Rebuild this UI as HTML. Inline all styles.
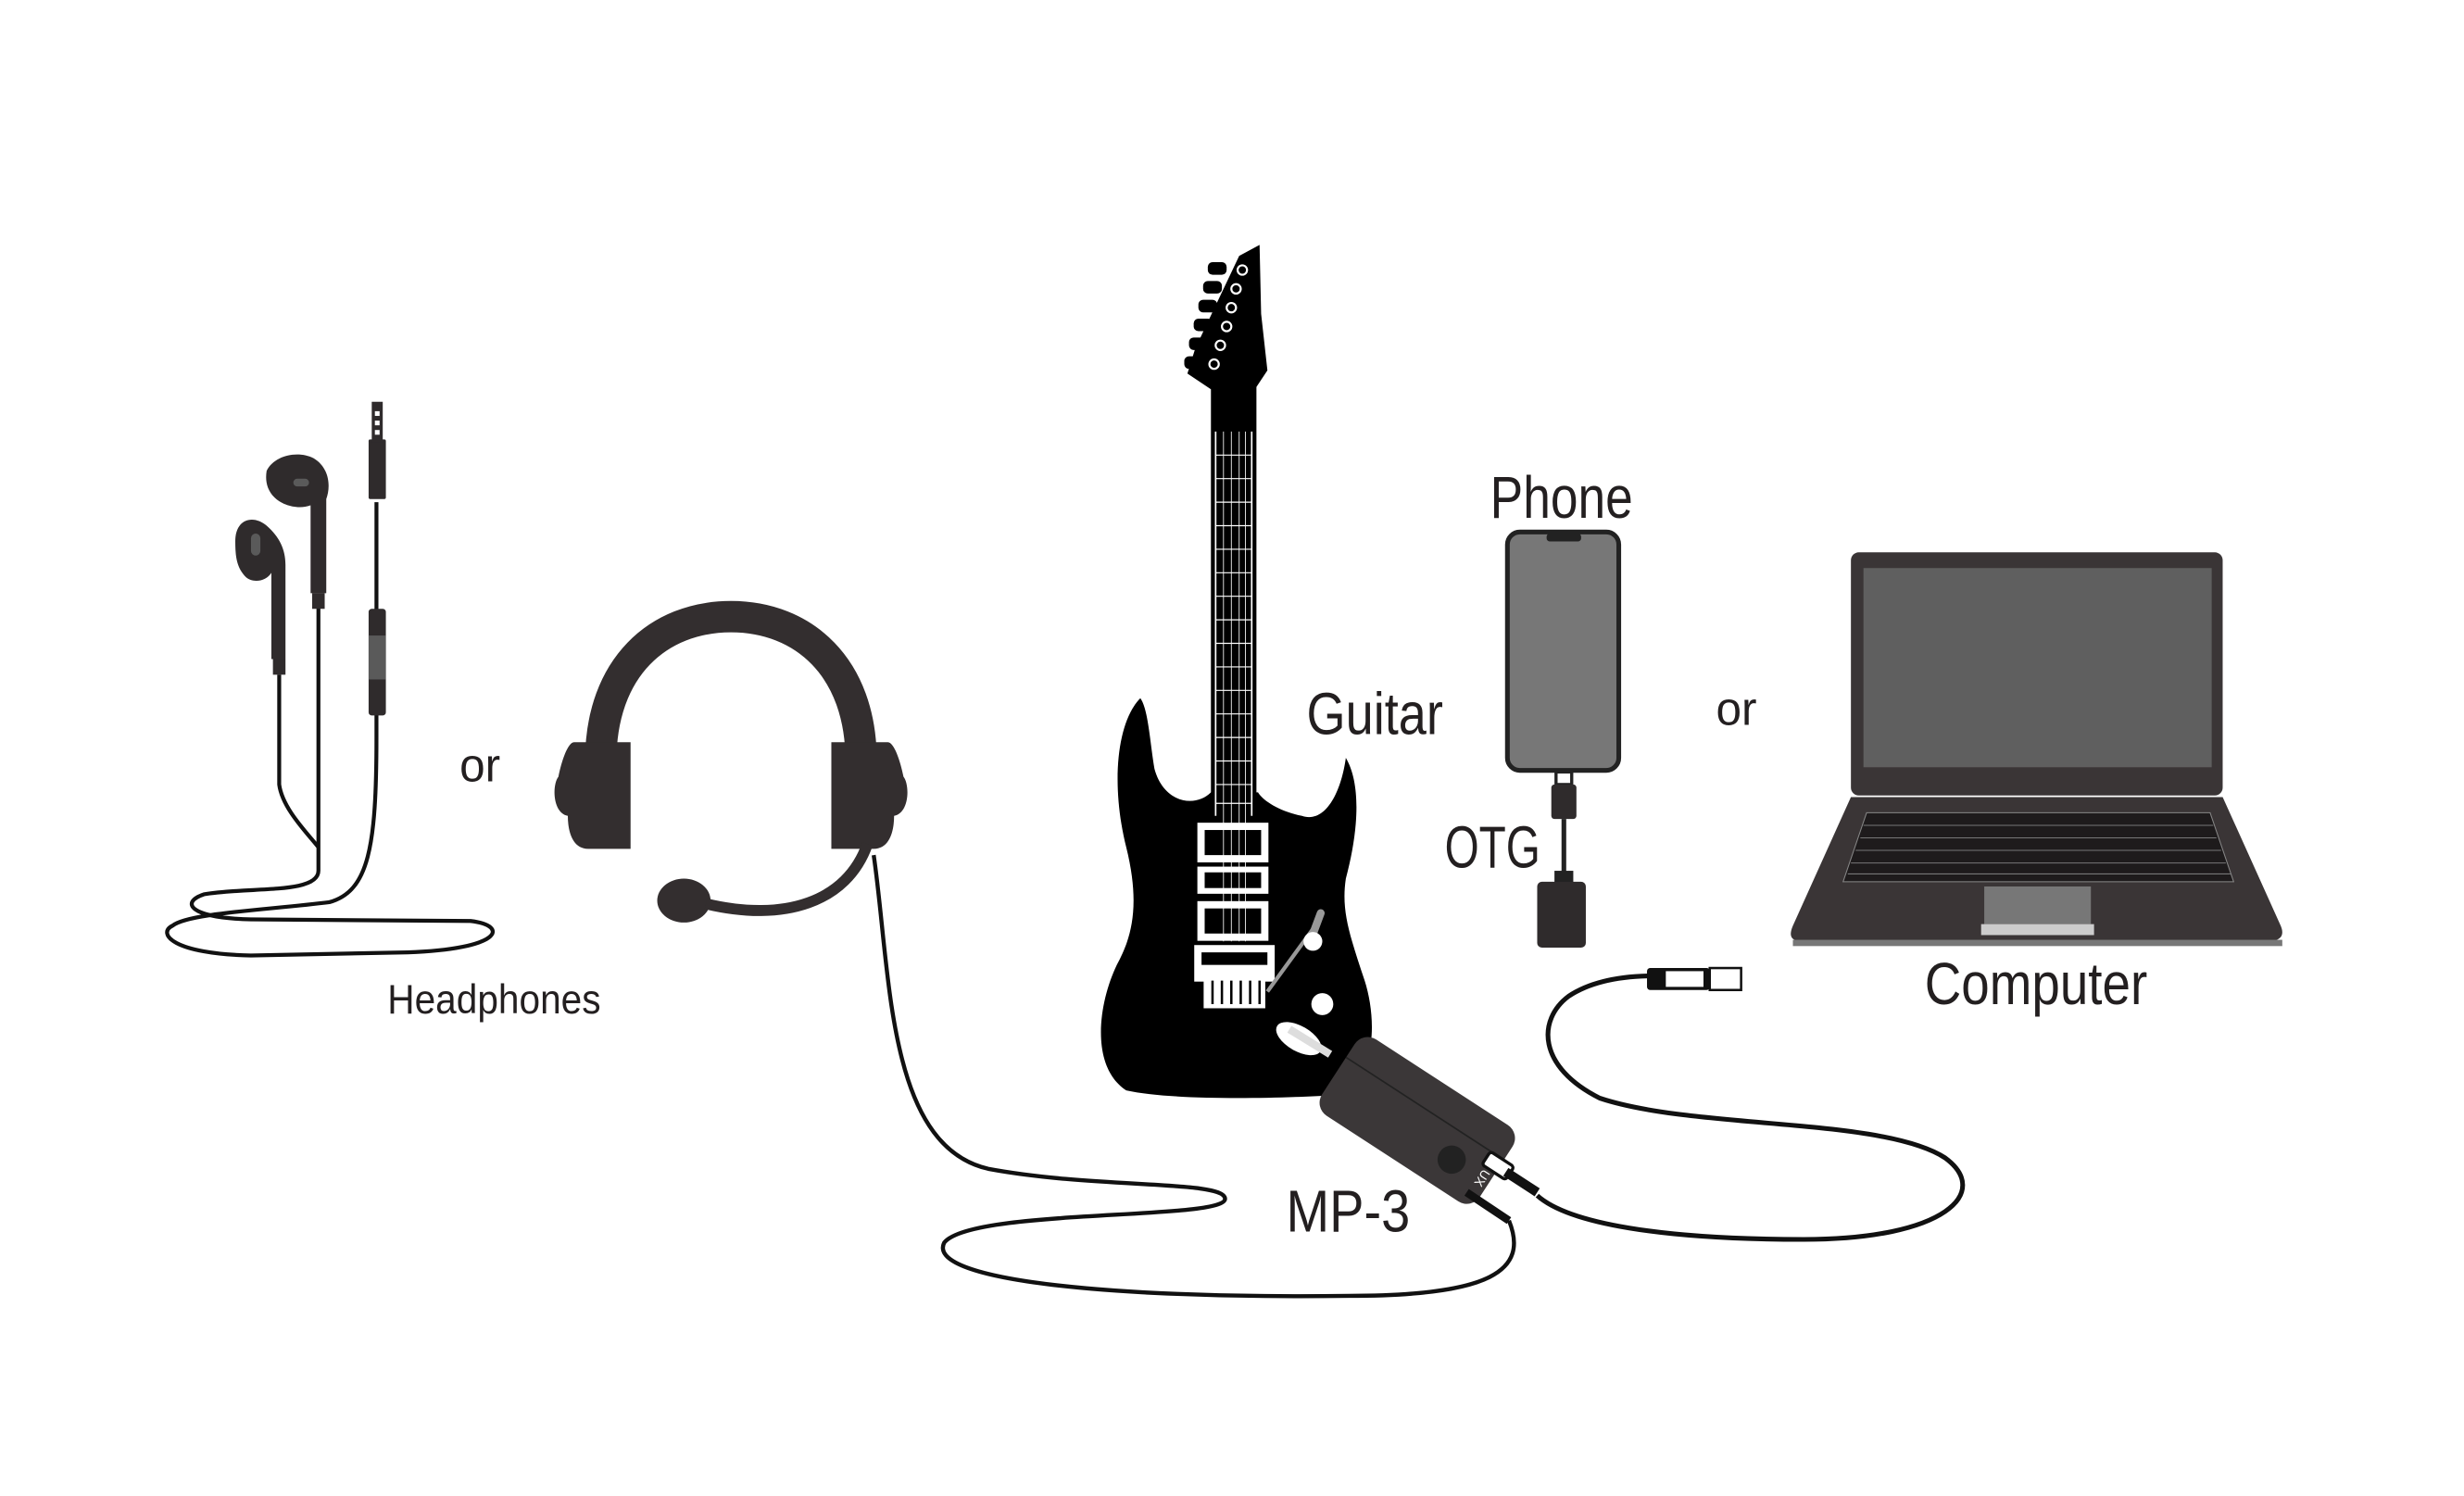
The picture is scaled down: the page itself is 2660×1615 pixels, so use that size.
<!DOCTYPE html>
<html><head><meta charset="utf-8"><style>
html,body{margin:0;padding:0;background:#fff;}
svg{display:block}
text{font-family:"Liberation Sans",sans-serif;fill:#231f20}
</style></head><body>
<svg width="2660" height="1615" viewBox="0 0 1552 942" xmlns="http://www.w3.org/2000/svg">
<rect width="1552" height="942" fill="#fff"/>
<g transform="scale(0.988)">
<!-- Earbuds cords -->
<g fill="none" stroke="#111" stroke-width="2.5">
<path d="M178 430 L178 500 C180 515 195 530 203 540"/>
<path d="M203 385 L203 555 C203 570 160 565 130 570 C115 575 120 585 160 586 L300 587 C325 590 320 605 260 607 L160 609 C110 608 100 595 110 590 C120 582 170 580 210 575 C235 568 240 540 240 470 L240 455"/>
<path d="M240 320 L240 390"/>
</g>
<g fill="#2f2b2c">
<path d="M150 345 C150 330 162 328 170 335 C178 342 182 350 182 360 L182 420 L173 420 L173 365 C170 370 162 372 157 368 C151 362 150 355 150 345 Z"/>
<rect x="174" y="420" width="8" height="10"/>
<path d="M170 300 C175 290 190 287 200 292 C210 298 211 310 208 318 L208 378 L198 378 L198 322 C190 325 180 322 175 317 C170 312 169 306 170 300 Z"/>
<rect x="199" y="378" width="8" height="10"/>
<rect x="235" y="280" width="11" height="38" rx="1"/>
<rect x="237" y="256" width="7" height="26"/>
<rect x="235" y="388" width="11" height="68" rx="2"/>
</g>
<rect x="235" y="405" width="11" height="28" fill="#5a5a5a"/>
<rect x="160" y="340" width="6" height="14" rx="3" fill="#5a5a5a"/>
<rect x="187" y="305" width="10" height="5" rx="2.5" fill="#5a5a5a"/>
<g fill="#fff"><rect x="239" y="262" width="3" height="3"/><rect x="239" y="268" width="3" height="3"/><rect x="239" y="274" width="3" height="3"/></g>
<text x="293" y="498" font-size="30" textLength="26" lengthAdjust="spacingAndGlyphs">or</text>
<text x="247" y="646" font-size="26" textLength="136" lengthAdjust="spacingAndGlyphs">Headphones</text>
<!-- headset -->
<path d="M383 485 C383 425 420 393 466 393 C512 393 549 425 549 485" fill="none" stroke="#332e2f" stroke-width="20"/>
<g fill="#332e2f">
<path d="M366 473 L402 473 L402 541 L375 541 C365 541 362 530 362 520 C352 518 352 500 356 495 C358 485 362 473 366 473 Z"/>
<path d="M530 473 L566 473 C570 473 574 485 576 495 C580 500 580 518 570 520 C570 530 567 541 557 541 L530 541 Z"/>
<ellipse cx="436" cy="574" rx="17" ry="14"/>
</g>
<path d="M553 538 C540 575 500 588 450 576" fill="none" stroke="#332e2f" stroke-width="7"/>
<!-- headset cable -->
<path d="M557 545 C568 620 565 730 630 745 C700 758 780 752 781 764 C782 778 620 770 602 792 C590 815 700 828 860 826 C950 826 975 810 962 778" fill="none" stroke="#111" stroke-width="2.6"/>
<!-- guitar -->
<g fill="#000">
<path d="M772 505 C762 515 742 512 736 490 C733 472 732 452 727 445 C712 460 708 500 718 540 C728 580 720 600 712 615 C700 640 695 680 718 695 C750 702 820 700 850 698 C878 690 878 650 870 625 C860 595 855 580 858 560 C866 530 868 500 858 483 C855 505 845 525 830 520 C815 517 805 510 802 505 Z"/>
<rect x="772" y="240" width="29" height="270"/>
<path d="M772 248 L757 238 L762 222 L790 163 L803 156 L804 200 L808 236 L800 248 Z"/>
<rect x="755" y="227" width="12" height="8" rx="3"/><rect x="758" y="215" width="12" height="8" rx="3"/><rect x="761" y="203" width="12" height="8" rx="3"/><rect x="764" y="191" width="12" height="8" rx="3"/><rect x="767" y="179" width="12" height="8" rx="3"/><rect x="770" y="167" width="12" height="8" rx="3"/>
</g>
<g fill="none" stroke="#fff" stroke-width="1.3">
<circle cx="792" cy="172" r="3"/><circle cx="788" cy="184" r="3"/><circle cx="785" cy="196" r="3"/><circle cx="782" cy="208" r="3"/><circle cx="778" cy="220" r="3"/><circle cx="774" cy="232" r="3"/>
<path d="M775 275 L775 520 M798 275 L798 520" stroke-width="1"/>
<rect x="764" y="525" width="44" height="24" fill="#fff"/>
<rect x="764" y="553" width="44" height="16" fill="#fff"/>
<rect x="764" y="575" width="44" height="24" fill="#fff"/>
<rect x="762" y="603" width="50" height="22" fill="#fff"/>
<rect x="768" y="622" width="38" height="20" fill="#fff"/>
</g>
<g fill="#000"><rect x="768" y="529" width="36" height="16"/><rect x="768" y="556" width="36" height="10"/><rect x="768" y="579" width="36" height="16"/><rect x="766" y="607" width="42" height="8"/></g>
<g stroke="#000" stroke-width="1.5"><path d="M773 625 V640 M779 625 V640 M785 625 V640 M791 625 V640 M797 625 V640 M803 625 V640"/></g>
<g stroke="#fff" stroke-width="0.7">
<path d="M775 290 H798 M775 305 H798 M775 320 H798 M775 335 H798 M775 350 H798 M775 365 H798 M775 380 H798 M775 395 H798 M775 410 H798 M775 425 H798 M775 440 H798 M775 455 H798 M775 470 H798 M775 485 H798 M775 500 H798 M775 512 H798"/>
<path d="M780 275 V600 M785 275 V600 M790 275 V600 M794 275 V600" stroke-width="0.5"/>
</g>
<path d="M808 632 L840 588" stroke="#999" stroke-width="2.5"/>
<path d="M836 598 L842 582" stroke="#999" stroke-width="5" stroke-linecap="round"/>
<circle cx="837" cy="600" r="6" fill="#fff"/>
<circle cx="843" cy="640" r="7" fill="#fff"/>
<ellipse cx="828" cy="662" rx="16" ry="8" fill="#fff" transform="rotate(30 828 662)"/>
<text x="833" y="468" font-size="38" textLength="87" lengthAdjust="spacingAndGlyphs">Guitar</text>
<!-- MP-3 device -->
<line x1="848" y1="672" x2="822" y2="656" stroke="#ddd" stroke-width="5"/>
<g transform="translate(903 715) rotate(33)">
<rect x="-60" y="-30" width="120" height="58" rx="10" fill="#3b3738"/>
<line x1="-60" y1="-10" x2="60" y2="-10" stroke="#222" stroke-width="1"/>
<circle cx="32" cy="8" r="9" fill="#222"/>
<text x="52" y="-4" font-size="8" transform="rotate(90 52 -4)" style="fill:#fff">NUX</text>
</g>
<rect x="946" y="738" width="18" height="10" rx="2" fill="#fff" stroke="#111" stroke-width="2" transform="rotate(33 955 743)"/>
<path d="M960 747 L980 760" stroke="#111" stroke-width="6"/>
<path d="M935 760 L962 778" stroke="#111" stroke-width="5"/>
<text x="820" y="785" font-size="38" textLength="79" lengthAdjust="spacingAndGlyphs">MP-3</text>
<!-- USB cable -->
<path d="M980 762 C1000 780 1060 790 1150 790 C1240 790 1270 760 1240 738 C1200 712 1080 720 1020 700 C980 680 980 650 1000 635 C1015 625 1035 622 1055 622" fill="none" stroke="#111" stroke-width="3"/>
<rect x="1050" y="617" width="40" height="14" rx="2" fill="#111"/>
<rect x="1062" y="619" width="24" height="10" fill="#fff"/>
<rect x="1090" y="617" width="20" height="14" fill="#fff" stroke="#111" stroke-width="1.5"/>
<!-- phone -->
<rect x="961" y="339" width="71" height="152" rx="8" fill="#777" stroke="#222" stroke-width="3"/>
<rect x="986" y="340" width="22" height="5" rx="2" fill="#222"/>
<text x="950" y="330" font-size="38" textLength="91" lengthAdjust="spacingAndGlyphs">Phone</text>
<rect x="992" y="492" width="10" height="8" fill="#fff" stroke="#222" stroke-width="2"/>
<rect x="989" y="500" width="16" height="22" rx="2" fill="#2f2b2c"/>
<path d="M997 522 L997 558" stroke="#222" stroke-width="3"/>
<rect x="991" y="555" width="12" height="8" fill="#222"/>
<rect x="980" y="562" width="31" height="42" rx="3" fill="#2f2b2c"/>
<text x="921" y="553" font-size="38" textLength="61" lengthAdjust="spacingAndGlyphs">OTG</text>
<text x="1094" y="462" font-size="30" textLength="26" lengthAdjust="spacingAndGlyphs">or</text>
<!-- laptop -->
<rect x="1180" y="352" width="237" height="155" rx="5" fill="#3a3536"/>
<rect x="1188" y="362" width="222" height="127" fill="#5f5f5f"/>
<path d="M1180 508 L1417 508 L1454 590 C1457 597 1453 600 1445 600 L1150 600 C1142 600 1140 597 1143 590 Z" fill="#3a3536"/>
<rect x="1143" y="599" width="312" height="4" fill="#777"/>
<path d="M1190 518 L1409 518 L1424 562 L1175 562 Z" fill="#1e1b1c" stroke="#888" stroke-width="0.6"/>
<g stroke="#777" stroke-width="0.6">
<path d="M1188 526 H1411 M1186 534 H1413 M1183 542 H1416 M1180 550 H1419 M1178 557 H1422"/>
</g>
<rect x="1265" y="565" width="68" height="24" fill="#777"/>
<rect x="1263" y="589" width="72" height="7" fill="#ccc"/>
<text x="1227" y="640" font-size="38" textLength="142" lengthAdjust="spacingAndGlyphs">Computer</text>
</g>
</svg>
</body></html>
